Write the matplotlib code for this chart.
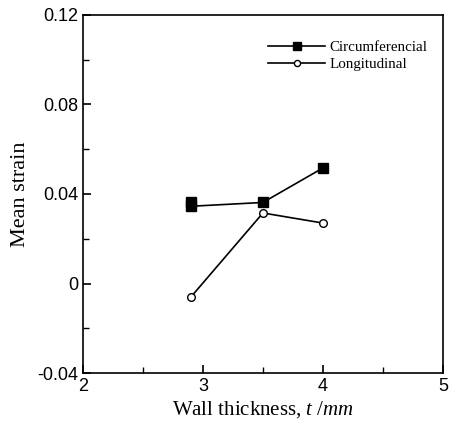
import numpy as np
import matplotlib.pyplot as plt
from matplotlib.ticker import MultipleLocator

plt.rcParams['mathtext.fontset'] = 'custom'
plt.rcParams['mathtext.it'] = 'Liberation Serif:italic'
plt.rcParams['mathtext.rm'] = 'Liberation Serif'

# wall thickness (mm) and mean strain
t_circ = [2.9, 2.9, 3.5, 4.0]
e_circ = [0.0365, 0.0345, 0.0362, 0.0516]
t_long = [2.9, 3.5, 4.0]
e_long = [-0.006, 0.0315, 0.027]

fig = plt.figure(figsize=(4.51, 4.23), dpi=100)
ax = fig.add_axes([0.184, 0.118, 0.798, 0.847])

ax.plot(t_circ, e_circ, '-', color='black', lw=1.2, marker='s', ms=6.5,
        mfc='black', mec='black', label='Circumferencial')
ax.plot(t_long, e_long, '-', color='black', lw=1.2, marker='o', ms=5.5,
        mfc='white', mec='black', label='Longitudinal')

ax.set_xlim(2, 5)
ax.set_ylim(-0.04, 0.12)
ax.xaxis.set_major_locator(MultipleLocator(1))
ax.xaxis.set_minor_locator(MultipleLocator(0.5))
ax.yaxis.set_minor_locator(MultipleLocator(0.02))
ax.set_yticks([-0.04, 0, 0.04, 0.08, 0.12])
ax.set_yticklabels(['-0.04', '0', '0.04', '0.08', '0.12'])
ax.tick_params(which='both', direction='in', labelsize=13)
ax.tick_params(which='major', length=6, width=1.2)
ax.tick_params(which='minor', length=4, width=1.0)
for lab in ax.get_xticklabels() + ax.get_yticklabels():
    lab.set_family('Liberation Sans')
for s in ax.spines.values():
    s.set_linewidth(1.2)

ax.set_xlabel('Wall thickness, $\\it{t}$ /$\\it{mm}$', family='Liberation Serif',
              fontsize=15, labelpad=3)
ax.set_ylabel('Mean strain', family='Liberation Serif', fontsize=16, labelpad=5)

ax.legend(loc='upper right', bbox_to_anchor=(0.995, 0.965), frameon=False,
          handlelength=3.8, handletextpad=0.3, labelspacing=0.2,
          prop={'family': 'Liberation Serif', 'size': 10.8}, markerscale=0.8)

fig.savefig('out.png', dpi=100)
